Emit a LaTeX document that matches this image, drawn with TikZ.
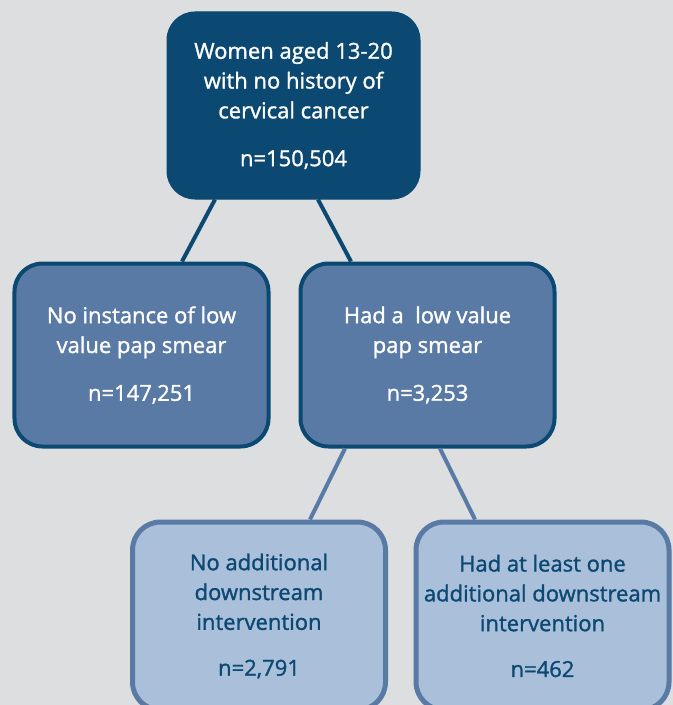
\documentclass[tikz,border=0pt]{standalone}
\usepackage{fontspec}
\setmainfont{Open Sans}
\newfontfamily\boxfont{Open Sans}[RawFeature={embolden=1.3}]
\definecolor{bg}{HTML}{DDDEE0}
\definecolor{dark}{HTML}{0B4872}
\definecolor{mid}{HTML}{5A7AA6}
\definecolor{light}{HTML}{AAC0DA}
\tikzset{
  box/.style={rectangle, rounded corners=28bp, align=center, inner sep=0pt,
    minimum width=#1, font=\boxfont\fontsize{22bp}{29.8bp}\selectfont},
  topbox/.style={box=253bp, minimum height=187bp, fill=dark, draw=dark, line width=1bp, text=white},
  midbox/.style={box=254bp, minimum height=183bp, fill=mid, draw=dark, line width=4bp, text=white},
  lowbox/.style={box=253bp, minimum height=188bp, fill=light, draw=mid, line width=5bp, text=dark},
  darklink/.style={draw=dark, line width=4bp},
  midlink/.style={draw=mid, line width=4bp},
}
\begin{document}
\begin{tikzpicture}[x=1bp,y=-1bp]
\fill[bg] (0,0) rectangle (673,705);
\useasboundingbox (0,0) rectangle (673,705);
\node[topbox] (top) at (293.5,105.5) {Women aged 13-20\\with no history of\\cervical cancer\\[18bp]n=150,504};
\node[midbox] (m1) at (141.5,355) {No instance of low\\value pap smear\\[18bp]n=147,251};
\node[midbox] (m2) at (427.5,355) {Had a\ \ low value\\pap smear\\[18bp]n=3,253};
\node[lowbox] (b1) at (259,616) {No additional\\downstream\\intervention\\[16bp]n=2,791};
\node[lowbox] (b2) at (542.5,616) {Had at least one\\additional downstream\\intervention\\[16bp]n=462};
\draw[darklink] ([xshift=-78.5bp]top.south) -- ([xshift=40.5bp]m1.north);
\draw[darklink] ([xshift=24.5bp]top.south) -- ([xshift=-76.5bp]m2.north);
\draw[midlink] ([xshift=-82.5bp]m2.south) -- ([xshift=51bp]b1.north);
\draw[midlink] ([xshift=12.5bp]m2.south) -- ([xshift=-67.5bp]b2.north);
\end{tikzpicture}
\end{document}
